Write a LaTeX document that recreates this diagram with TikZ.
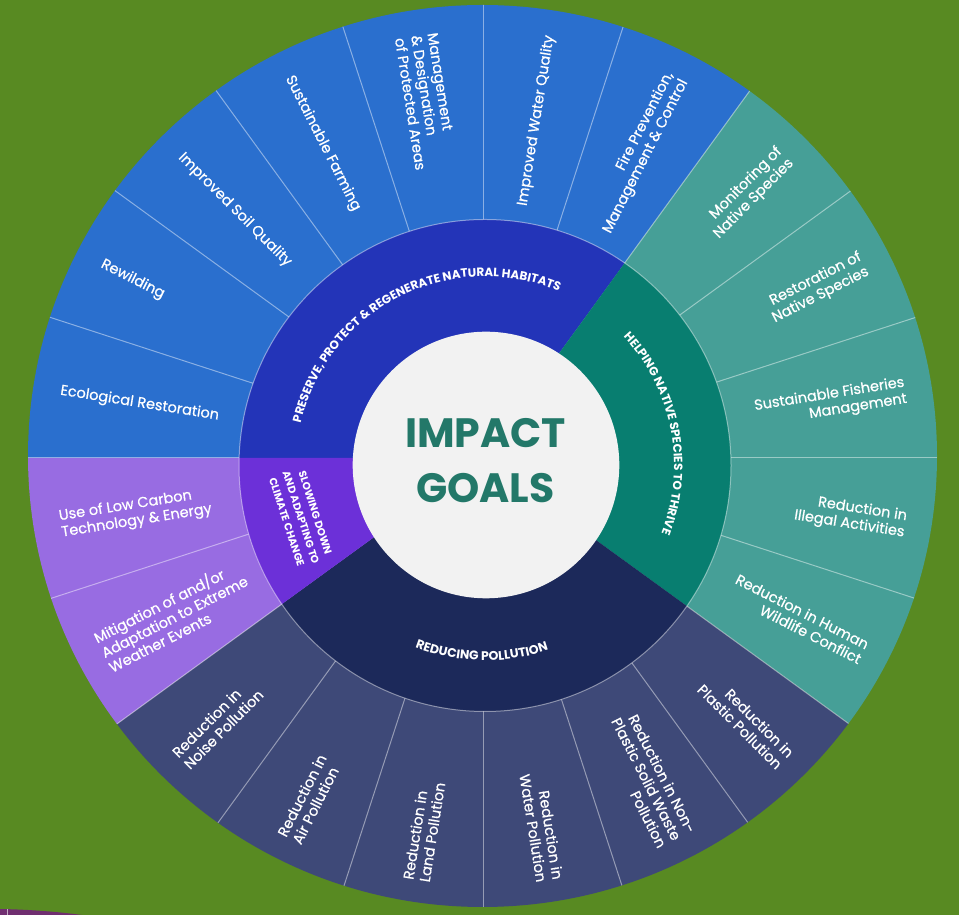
\documentclass[tikz,border=0pt]{standalone}
\usepackage{fontspec}
\setmainfont{Poppins}
\newfontfamily\popp{Poppins}
\newfontfamily\poppm[FakeBold=0.6]{Poppins}
\usetikzlibrary{calc,decorations.text}

\definecolor{bggreen}{RGB}{88,138,34}
\definecolor{maroonc}{RGB}{112,46,112}
\definecolor{oblue}{RGB}{42,111,206}
\definecolor{iblue}{RGB}{35,52,184}
\definecolor{oteal}{RGB}{70,159,151}
\definecolor{iteal}{RGB}{8,126,112}
\definecolor{opoll}{RGB}{62,73,120}
\definecolor{ipoll}{RGB}{28,41,90}
\definecolor{opurp}{RGB}{152,108,226}
\definecolor{ipurp}{RGB}{108,48,216}
\definecolor{centerw}{RGB}{242,242,242}
\definecolor{impact}{RGB}{35,120,105}

\newcommand\MyInnerFont{\popp\bfseries\fontsize{12}{14}\selectfont\color{white}}
\newcommand\MyInnerFontB{\popp\bfseries\fontsize{12.5}{14}\selectfont\color{white}}
\newcommand\MyRL[3]{\node[outerlbl,anchor=east,rotate=#2,align=right] (#1) at ($(O)+(#2:428)$) {#3};}
\newcommand\MyLL[3]{\node[outerlbl,anchor=west,rotate=#2+180,align=left] (#1) at ($(O)+(#2:428)$) {#3};}
\newcommand\MyWedge[3]{\fill[#1] (O) -- ++(#2:700) arc[start angle=#2,end angle=#3,radius=700] -- cycle;}

\begin{document}
\begin{tikzpicture}[x=1pt,y=1pt,
  divline/.style={draw=white,draw opacity=0.45,line width=1pt},
  outerlbl/.style={text=white,inner sep=0pt,font=\poppm\fontsize{14.5}{16.5}\selectfont},
  innerlbl/.style={text=white,inner sep=0pt,font=\popp\bfseries\fontsize{10.5}{15}\selectfont}]
\useasboundingbox (0,0) rectangle (959,915);
\fill[bggreen] (0,0) rectangle (959,915);
% corner shape peeking in
\fill[maroonc] (0,0) -- (0,6) .. controls (30,5.5) and (60,3) .. (82,0) -- cycle;
\draw[white,opacity=0.6,line width=1pt] (7,0) -- (7,5.8);

\coordinate (O) at (483,457);
\coordinate (C1) at (485,449.5);
\coordinate (C2) at (486,450);

% outer ring
\begin{scope}
\clip (482.5,459) ellipse [x radius=454.5, y radius=451];
\MyWedge{oblue}{54}{180}
\MyWedge{oteal}{-36}{54}
\MyWedge{opoll}{-144}{-36}
\MyWedge{opurp}{-180}{-144}
\foreach \a in {0,18,...,342} \draw[divline] (O) -- ++(\a:700);
\end{scope}

% inner ring
\begin{scope}
\clip (C1) circle [radius=246];
\MyWedge{iblue}{54}{180}
\MyWedge{iteal}{-36}{54}
\MyWedge{ipoll}{-144}{-36}
\MyWedge{ipurp}{-180}{-144}
\end{scope}
\draw[divline] (C1) circle [radius=246];

% centre
\fill[centerw] (C2) circle [radius=133.3];
\node[font=\popp\bfseries\fontsize{41}{55}\selectfont,text=impact,align=center] (goal) at (485.5,454.5) {IMPACT\\GOALS};

% inner ring labels
\path[decorate,decoration={text along path,text align=center,
  text={|\MyInnerFont|PRESERVE, PROTECT {\&} REGENERATE NATURAL HABITATS}}]
  ($(C1)+(192:189)$) arc[start angle=192,end angle=42,radius=189];
\path[decorate,decoration={text along path,text align=center,
  text={|\MyInnerFont|HELPING NATIVE SPECIES TO THRIVE}}]
  ($(C1)+(71:189)$) arc[start angle=71,end angle=-49,radius=189];
\path[decorate,decoration={text along path,text align=center,
  text={|\MyInnerFontB|REDUCING POLLUTION}}]
  ($(C1)+(-141:195)$) arc[start angle=-141,end angle=-41,radius=195];
\node[innerlbl,rotate=-72,align=center] (slow) at (301,397.5) {SLOWING DOWN\\AND ADAPTING TO\\CLIMATE CHANGE};

% outer labels, right half
\MyRL{water}{81}{Improved Water Quality}
\MyRL{fire}{63}{Fire Prevention,\\Management \& Control}
\MyRL{monit}{45}{Monitoring of\\Native Species}
\MyRL{resto}{27}{Restoration of\\Native Species}
\MyRL{fish}{9}{Sustainable Fisheries\\Management}
\MyRL{illeg}{-9}{Reduction in\\Illegal Activities}
\MyRL{human}{-27}{Reduction in Human\\Wildlife Conflict}
\MyRL{plast}{-45}{Reduction in\\Plastic Pollution}
\MyRL{nonpl}{-63}{Reduction in Non-\\Plastic Solid Waste\\Pollution}
\MyRL{wpoll}{-81}{Reduction in\\Water Pollution}
% outer labels, left half
\MyLL{manag}{99}{Management\\\& Designation\\of Protected Areas}
\MyLL{farm}{117}{Sustainable Farming}
\MyLL{soil}{135}{Improved Soil Quality}
\MyLL{rewild}{153}{Rewilding}
\MyLL{ecol}{171}{Ecological Restoration}
\MyLL{lowc}{-171}{Use of Low Carbon\\Technology \& Energy}
\MyLL{mitig}{-153}{Mitigation of and/or\\Adaptation to Extreme\\Weather Events}
\MyLL{noise}{-135}{Reduction in\\Noise Pollution}
\MyLL{air}{-117}{Reduction in\\Air Pollution}
\MyLL{land}{-99}{Reduction in\\Land Pollution}
\end{tikzpicture}
\end{document}
